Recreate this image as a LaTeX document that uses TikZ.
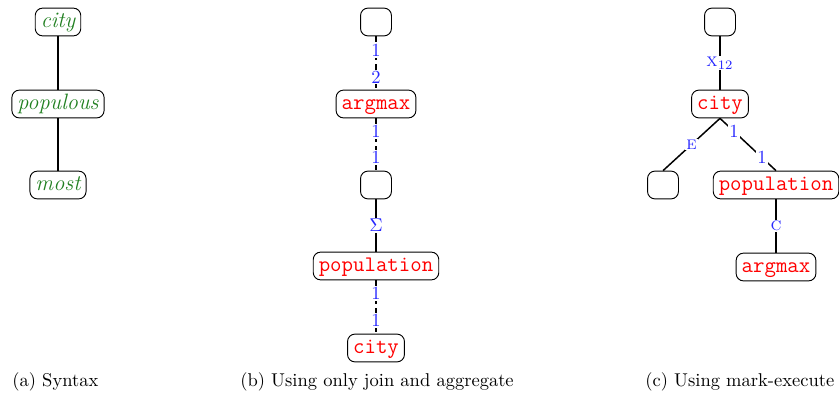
\documentclass[tikz,border=0pt]{standalone}
\definecolor{synG}{rgb}{0.13,0.50,0.13}
\definecolor{lblB}{rgb}{0.15,0.15,1}
\tikzset{
  tnode/.style={draw, rounded corners=4pt, line width=0.5pt, inner xsep=3pt, inner ysep=2pt,
    text height=8.5pt, text depth=2.5pt, minimum width=16.7pt, font=\large},
  syn/.style={tnode, text=synG, font=\large\itshape},
  sem/.style={tnode, text=red, font=\large\ttfamily},
  edge/.style={line width=0.8pt},
  dedge/.style={line width=0.8pt, dash pattern=on 3pt off 2pt},
  lbl/.style={fill=white, inner sep=0.6pt, text=lblB, font=\normalsize},
  captext/.style={anchor=base west, inner sep=0pt, font=\normalsize},
}
\begin{document}
\begin{tikzpicture}[x=0.54pt, y=-0.54pt]
\useasboundingbox (0,0) rectangle (839,401);
% (a)
\node[syn] (a1) at (58,22) {city};
\node[syn] (a2) at (58,104) {populous};
\node[syn] (a3) at (58,185) {most};
\draw[edge] (a1.south) -- (a2.north);
\draw[edge] (a2.south) -- (a3.north);
% (b)
\node[tnode] (b1) at (376,22) {};
\node[sem] (b2) at (376,104) {argmax};
\node[tnode] (b3) at (376,185) {};
\node[sem] (b4) at (376,266) {population};
\node[sem] (b5) at (376,348) {city};
\draw[dedge] (b1.south) -- (b2.north) node[lbl,pos=.27]{1} node[lbl,pos=.76]{2};
\draw[dedge] (b2.south) -- (b3.north) node[lbl,pos=.25]{1} node[lbl,pos=.75]{1};
\draw[edge] (b3.south) -- (b4.north) node[lbl,midway]{$\Sigma$};
\draw[dedge] (b4.south) -- (b5.north) node[lbl,pos=.25]{1} node[lbl,pos=.75]{1};
% (c)
\node[tnode] (c1) at (720,22) {};
\node[sem] (c2) at (720,104) {city};
\node[tnode] (c3) at (663,185) {};
\node[sem] (c4) at (776,185) {population};
\node[sem] (c5) at (776,267) {argmax};
\draw[edge] (c1.south) -- (c2.north) node[lbl,midway]{\textsc{x}$_{12}$};
\draw[edge] (c2.south) -- (c3.north) node[lbl,midway]{\textsc{e}};
\draw[edge] (c2.south) -- (c4.north) node[lbl,pos=.25]{1} node[lbl,pos=.75]{1};
\draw[edge] (c4.south) -- (c5.north) node[lbl,midway]{\textsc{c}};
% captions
\node[captext] (capa) at (12,386) {(a) Syntax};
\node[captext] (capb) at (240,386) {(b) Using only join and aggregate};
\node[captext] (capc) at (645,386) {(c) Using mark-execute};
\end{tikzpicture}
\end{document}
